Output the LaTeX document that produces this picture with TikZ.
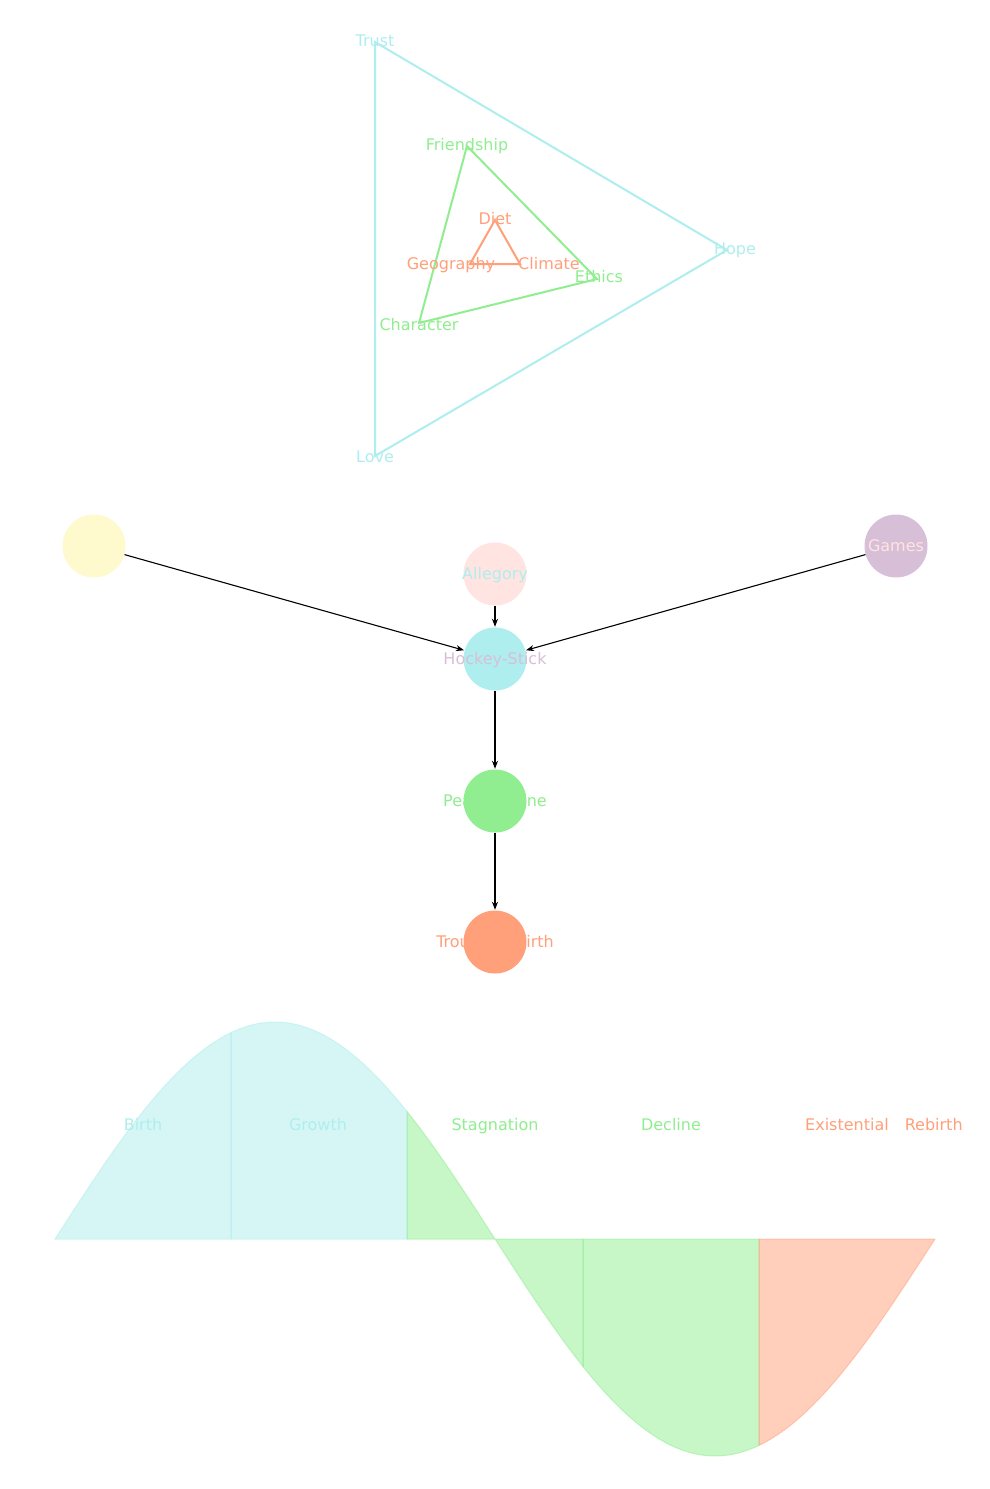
\documentclass[tikz,border=0pt]{standalone}
\usepackage{fontspec}
\setmainfont{DejaVu Sans}
\usetikzlibrary{arrows.meta}
\definecolor{cCyan}{HTML}{AFEEEE}
\definecolor{cGreen}{HTML}{90EE90}
\definecolor{cSalmon}{HTML}{FFA07A}
\definecolor{cPink}{HTML}{FFE4E1}
\definecolor{cThistle}{HTML}{D8BFD8}
\definecolor{cYellow}{HTML}{FFFACD}
\tikzset{
  lbl/.style={font=\fontsize{16}{18}\selectfont, inner sep=0pt, anchor=center, text height=11.7pt, text depth=0pt},
  gnode/.style={circle, minimum size=63pt, inner sep=0pt},
  garrow/.style={draw=black, line width=1.1pt, -{Stealth[length=8pt,width=6pt]}, shorten >=0.5pt},
  tri/.style={line width=2pt, line join=miter},
  seg/.style={opacity=0.5, line width=1pt},
}
\newcommand{\wavey}[1]{1239-217*sin((#1-55)*0.4090909)}
\begin{document}
\begin{tikzpicture}[x=1pt,y=-1pt]
\useasboundingbox[fill=white] (0,0) rectangle (989,1489);
% triangles
\coordinate (t1) at (375,42);
\coordinate (t2) at (727,250);
\coordinate (t3) at (375,456);
\draw[tri, draw=cCyan] (t1) -- (t2) -- (t3) -- cycle;
\coordinate (f1) at (467,146);
\coordinate (f2) at (597,279);
\coordinate (f3) at (419,323);
\draw[tri, draw=cGreen] (f1) -- (f2) -- (f3) -- cycle;
\coordinate (d1) at (495,220);
\coordinate (d2) at (470,264);
\coordinate (d3) at (520,264);
\draw[tri, draw=cSalmon] (d1) -- (d2) -- (d3) -- cycle;
\node[lbl, text=cCyan] (lTrust) at (375,41) {Trust};
\node[lbl, text=cCyan] (lHope) at (735,249) {Hope};
\node[lbl, text=cCyan] (lLove) at (375,457) {Love};
\node[lbl, text=cGreen] (lFriend) at (467,145) {Friendship};
\node[lbl, text=cGreen] (lEthics) at (599,277) {Ethics};
\node[lbl, text=cGreen] (lChar) at (419,325) {Character};
\node[lbl, text=cSalmon] (lDiet) at (495,219) {Diet};
\node[lbl, text=cSalmon] (lGeo) at (451,264) {Geography};
\node[lbl, text=cSalmon] (lClim) at (549,264) {Climate};
% graph
\node[gnode, fill=cYellow] (yel) at (94,546) {};
\node[gnode, fill=cPink] (alle) at (495,574) {};
\node[gnode, fill=cThistle] (games) at (896,546) {};
\node[gnode, fill=cCyan] (hock) at (495,659) {};
\node[gnode, fill=cGreen] (peak) at (495,801) {};
\node[gnode, fill=cSalmon] (trough) at (495,942) {};
\node[lbl, text=cCyan] (alleT) at (alle) {Allegory};
\node[lbl, text=cPink] (gamesT) at (games) {Games};
\node[lbl, text=cThistle] (hockT) at (hock) {Hockey-Stick};
\node[lbl, text=cGreen] (peakT) at (peak) {Peak-Decline};
\node[lbl, text=cSalmon] (troughT) at (trough) {Trough-Rebirth};
\draw[garrow] (yel) -- (hock);
\draw[garrow] (alle) -- (hock);
\draw[garrow] (games) -- (hock);
\draw[garrow] (hock) -- (peak);
\draw[garrow] (peak) -- (trough);
% wave
\foreach \a/\b/\c in {55/231/cCyan, 231/407/cCyan, 407/583/cGreen, 583/759/cGreen, 759/935/cSalmon}{
  \fill[seg, \c] plot[domain=\a:\b, samples=40] (\x,{\wavey{\x}}) -- (\b,1239) -- (\a,1239) -- cycle;
  \draw[seg, \c] plot[domain=\a:\b, samples=40] (\x,{\wavey{\x}}) -- (\b,1239) -- (\a,1239) -- cycle;
}
\node[lbl, text=cCyan] (wBirth) at (143,1125) {Birth};
\node[lbl, text=cCyan] (wGrowth) at (318,1125) {Growth};
\node[lbl, text=cGreen] (wStag) at (495,1125) {Stagnation};
\node[lbl, text=cGreen] (wDecl) at (671,1125) {Decline};
\node[lbl, text=cSalmon, anchor=west] (wExist) at (805,1125) {Existential\hspace{16pt}Rebirth};
\end{tikzpicture}
\end{document}
